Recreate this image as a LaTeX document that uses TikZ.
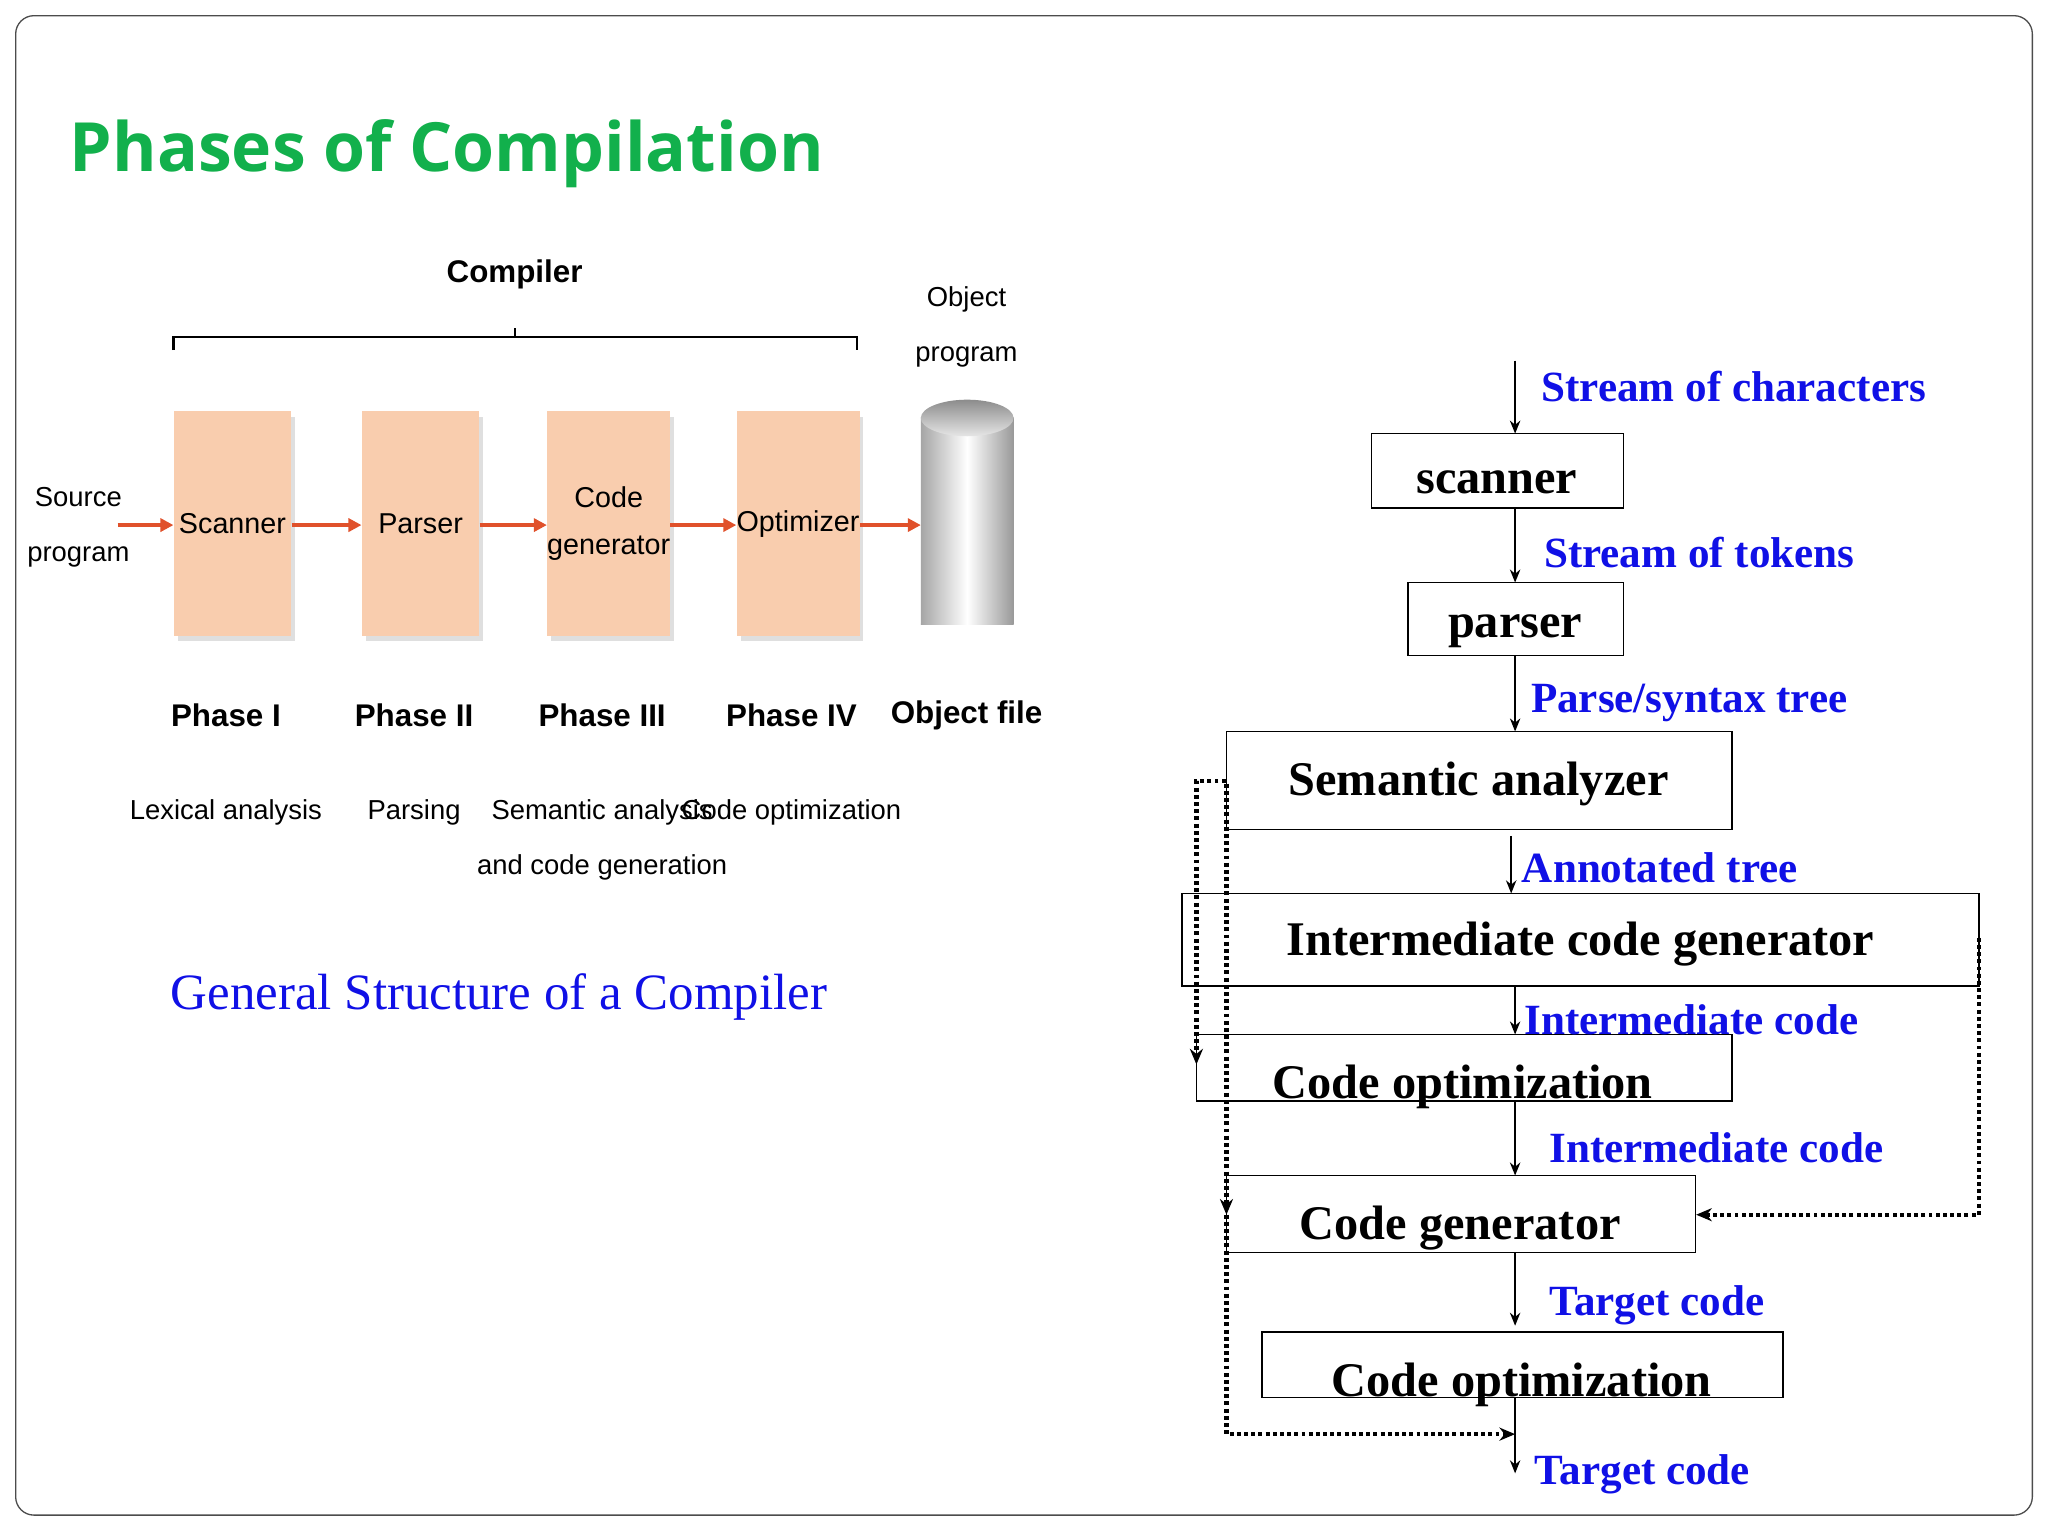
\documentclass[tikz,border=0pt]{standalone}
\usepackage{fontspec}
\setmainfont{Liberation Serif}
\newfontfamily\ttl{Open Sans}
\newfontfamily\cnd{Liberation Sans}
\usetikzlibrary{arrows.meta,shadows}
\definecolor{ttlgreen}{HTML}{12B04C}
\definecolor{peach}{HTML}{F9CDAE}
\definecolor{redarr}{HTML}{E0512B}
\definecolor{lblue}{HTML}{1010E6}
\begin{document}
\begin{tikzpicture}[x=1pt,y=-1pt,
 phase/.style={fill=peach,draw=none,minimum width=90pt,minimum height=172pt,inner sep=0pt,
   drop shadow={shadow xshift=3pt,shadow yshift=-4pt,fill=black!25},font=\cnd\fontsize{22}{36}\selectfont,align=center},
 redA/.style={draw=redarr,line width=2.5pt,-{Triangle[length=10pt,width=10pt]}},
 lab/.style={font=\cnd\fontsize{21}{42}\selectfont,align=center},
 labb/.style={font=\cnd\bfseries\fontsize{24}{34}\selectfont},
 box/.style={draw,line width=1.2pt,inner sep=0pt},
 bt/.style={font=\bfseries\fontsize{37}{40}\selectfont},
 blab/.style={text=lblue,font=\bfseries\fontsize{33}{35}\selectfont,anchor=west,inner sep=0pt},
 ar/.style={line width=1.2pt,-{Stealth[length=10pt,width=8pt]}},
 dot/.style={line width=3.2pt,dash pattern=on 3pt off 2.5pt,-{Stealth[length=12pt,width=10pt]}}]
\useasboundingbox (0,0) rectangle (1568,1176);
\draw[rounded corners=14pt,line width=1pt,black!70] (12,12) rectangle (1556,1160);
\node[anchor=west,text=ttlgreen,font=\ttl\bfseries\fontsize{52}{56}\selectfont] (title) at (50,118) {Phases of Compilation};
% left diagram
\node[phase] (sc) at (178,401) {Scanner};
\node[phase] (pa) at (322,401) {Parser};
\node[phase] (cg) at (466,401) {Code\\generator};
\node[phase] (op) at (611,401) {Optimizer};
\shade[left color=black!35,right color=black!40,middle color=white] (705,320) rectangle (776,478);
\shade[left color=black!35,right color=black!40,middle color=white] (705,478) arc[start angle=180,end angle=360,x radius=35.5,y radius=14];
\shade[top color=black!45,bottom color=black!10] (740.5,320) ellipse[x radius=35.5,y radius=14];
\coordinate (cyl) at (705,402);
\coordinate (src) at (90,402);
\node[lab] (srcl) at (60,404) {Source\\program};
\node[lab] (objl) at (740,250) {Object\\program};
\draw[redA] (src) -- (sc.west|-src);
\draw[redA] (sc.east|-src) -- (pa.west|-src);
\draw[redA] (pa.east|-src) -- (cg.west|-src);
\draw[redA] (cg.east|-src) -- (op.west|-src);
\draw[redA] (op.east|-src) -- (cyl);
\draw[line width=2pt] (133,268) -- (133,258) -- (656,258) -- (656,268);
\draw[line width=1.5pt] (394,258) -- (394,251);
\node[labb] (comp) at (394,210) {Compiler};
\foreach \x/\t/\n in {173/Phase I/p1,317/Phase II/p2,461/Phase III/p3,606/Phase IV/p4,740/Object file/p5}
  \node[labb] (\n) at (\x,548) {\t};
\node[lab] (d1) at (173,622) {Lexical analysis};
\node[lab] (d2) at (317,622) {Parsing};
\node[lab] (d3) at (461,643) {Semantic analysis\\and code generation};
\node[lab] (d4) at (606,622) {Code optimization};
\node[text=lblue,font=\fontsize{39}{41}\selectfont] (cap) at (382,763) {General Structure of a Compiler};
% right diagram
\node[box,minimum width=193pt,minimum height=57pt] (s1) at (1146.5,360.5) {};
\node[bt] at (1146,369) {scanner};
\node[box,minimum width=165pt,minimum height=56pt] (s2) at (1160.5,474) {};
\node[bt] at (1160,483) {parser};
\node[box,minimum width=387pt,minimum height=75pt] (s3) at (1132.5,597.5) {};
\node[bt] at (1132,600) {Semantic analyzer};
\node[box,minimum width=610pt,minimum height=71pt] (s4) at (1210,719.5) {};
\node[bt] at (1210,723) {Intermediate code generator};
\node[box,minimum width=410pt,minimum height=51pt] (s5) at (1121,817.5) {};
\node[bt] at (1120,832) {Code optimization};
\node[box,minimum width=359pt,minimum height=59pt] (s6) at (1118.5,929.5) {};
\node[bt] at (1118,940) {Code generator};
\node[box,minimum width=399pt,minimum height=50pt] (s7) at (1165.5,1045) {};
\node[bt] at (1165,1060) {Code optimization};
\coordinate (in) at (1160,276);
\coordinate (out) at (1160,1128);
\draw[ar] (in) -- (1160,332);
\draw[ar] (1160,389) -- (1160,446);
\draw[ar] (1160,502) -- (1160,560);
\draw[ar] (1157,640) -- (1157,684);
\draw[ar] (1160,755) -- (1160,792);
\draw[ar] (1160,843) -- (1160,900);
\draw[ar] (1160,959) -- (1160,1015);
\draw[ar] (1160,1070) -- (out);
\node[blab] (l1) at (1180,296) {Stream of characters};
\node[blab] (l2) at (1182,423) {Stream of tokens};
\node[blab] (l3) at (1172,538) {Parse/syntax tree};
\node[blab] (l4) at (1165,664) {Annotated tree};
\node[blab] (l5) at (1167,781) {Intermediate code};
\node[blab] (l6) at (1186,879) {Intermediate code};
\node[blab] (l7) at (1186,999) {Target code};
\node[blab] (l8) at (1175,1129) {Target code};
% dotted feedback lines
\draw[dot] (s3.west|-0,598) -- (916,598) -- (916,815);
\draw[dot] (939,600) -- (939,930);
\draw[dot] (939,930) -- (939,1098) -- (1160,1098);
\draw[dot] (1515,718) -- (1515,930) -- (s6.east|-0,930);
\end{tikzpicture}
\end{document}
